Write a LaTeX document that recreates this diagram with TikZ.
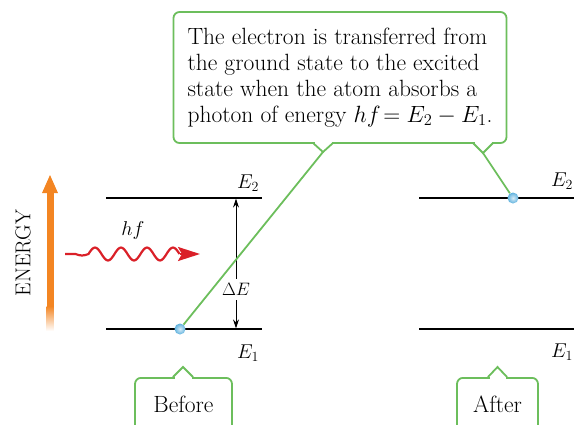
\RequirePackage{fix-cm}
\documentclass[tikz,border=0pt]{standalone}
\usetikzlibrary{arrows.meta, calc}
\definecolor{notegreen}{RGB}{108,190,92}
\definecolor{energyorange}{RGB}{243,133,34}
\definecolor{photonred}{RGB}{218,32,40}
\definecolor{electronblue}{RGB}{96,178,222}
\tikzset{
    level/.style={draw, line width=1.2pt},
    lvllbl/.style={font=\fontsize{20}{22}\selectfont, inner sep=0pt},
    note/.style={draw=notegreen, line width=1.8pt, rounded corners=6pt, fill=white, align=left, font=\fontsize{23.5}{26}\selectfont, inner xsep=14pt},
    tag/.style={draw=notegreen, line width=1.8pt, rounded corners=6pt, minimum width=97pt, minimum height=60pt, anchor=north, font=\fontsize{23.5}{26}\selectfont, text depth=8pt},
    pointer/.style={notegreen, line width=1.8pt},
    electron/.style={circle, minimum size=11pt, inner sep=0pt, shading=radial, inner color=electronblue!25!white, outer color=electronblue},
    gaparrow/.style={{Stealth[length=9pt, width=6pt]}-{Stealth[length=9pt, width=6pt]}, line width=0.8pt},
}
\begin{document}
\begin{tikzpicture}[x=1pt, y=-1pt]
        \useasboundingbox (0,0) rectangle (574,424);
        % energy levels
        \coordinate (b2l) at (106,198); \coordinate (b2r) at (262,198);
        \coordinate (b1l) at (106,329); \coordinate (b1r) at (262,329);
        \coordinate (a2l) at (419,198); \coordinate (a2r) at (576,198);
        \coordinate (a1l) at (419,329); \coordinate (a1r) at (576,329);
        \draw[level] (b2l) -- (b2r);
        \draw[level] (b1l) -- (b1r);
        \draw[level] (a2l) -- (a2r);
        \draw[level] (a1l) -- (a1r);
        \node[lvllbl, anchor=base] (lE2) at (248,188) {$E_2$};
        \node[lvllbl, anchor=base] (lE1) at (248,358) {$E_1$};
        \node[lvllbl, anchor=base] (rE2) at (562,186) {$E_2$};
        \node[lvllbl, anchor=base] (rE1) at (562,357) {$E_1$};
        \draw[gaparrow] (236,328.4) -- (236,198.6)
            node[pos=0.3, fill=white, inner xsep=1pt, inner ysep=4pt, font=\fontsize{18}{20}\selectfont] (dE) {$\Delta E$};
        % energy axis
        \node[rotate=90, font=\fontsize{21.5}{24}\selectfont, inner sep=0pt] (energy) at (23,253) {ENERGY};
        \coordinate (etop) at (50,175);
        \shade[top color=energyorange, bottom color=white] (46.5,306) rectangle (53.5,331);
        \fill[energyorange] (46.5,192) rectangle (53.5,306.5);
        \fill[energyorange] (42,193) -- (etop) -- (58,193) -- cycle;
        % photon
        \node[font=\fontsize{20}{22}\selectfont, inner sep=0pt, anchor=base] (hf) at (133,235) {$hf$};
        \coordinate (pstart) at (65,254);
        \coordinate (pend) at (179.5,254);
        \coordinate (ptip) at (200,254);
        \draw[photonred, line width=2.2pt] (pstart) -- (75.5,254)
            sin (82,255.5) cos (88.5,254) sin (95,247.5) cos (101.5,254)
            sin (108,260.5) cos (114.5,254) sin (121,247.5) cos (127.5,254)
            sin (134,260.5) cos (140.5,254) sin (147,247.5) cos (153.5,254)
            sin (160,260.5) cos (166.5,254) sin (173,247.5) cos (pend);
        \draw[photonred, line width=2.2pt, -{Stealth[length=22pt, width=14pt, inset=4pt]}] (pend) -- (ptip);
        % callout
        \node[note, minimum width=330pt, minimum height=131pt] (msg) at (340,77.5)
            {The electron is transferred from\\the ground state to the excited\\state when the atom absorbs a\\photon of energy $hf\!= E_2 - E_1$.};
        \coordinate (jl) at (323,152);
        \coordinate (jr) at (483,153);
        \fill[white] (314.5,140) rectangle (331.5,146);
        \fill[white] (474.5,140) rectangle (491.5,146);
        \draw[pointer] (313,143) -- (jl) -- (333,143);
        \draw[pointer] (473,143) -- (jr) -- (493,143);
        \node[electron] (eb) at (180,329) {};
        \node[electron] (ea) at (513,198) {};
        \draw[pointer] (jl) -- (eb);
        \draw[pointer] (jr) -- (ea);
        % tags
        \node[tag] (before) at (183.5,377) {Before};
        \node[tag, minimum width=81pt] (after) at (497.5,377) {After};
        \fill[white] (174.5,374) rectangle (191.5,380);
        \fill[white] (489.5,374) rectangle (505.5,380);
        \draw[pointer] (173,377) -- (183,367) -- (193,377);
        \draw[pointer] (488,377) -- (497.5,367) -- (507,377);
    \end{tikzpicture}
\end{document}
